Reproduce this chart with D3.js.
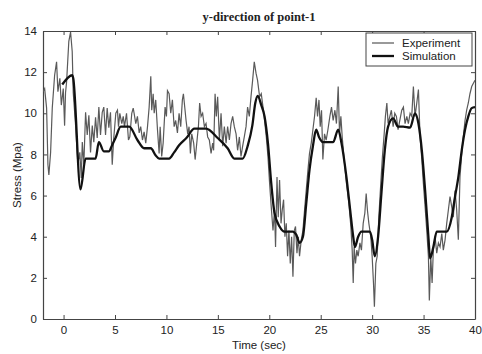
<!DOCTYPE html>
<html>
<head>
<meta charset="utf-8">
<script src="https://cdn.jsdelivr.net/npm/d3@7"></script>
<style>
  body { margin: 0; background: #fff; }
  svg text { font-family: "Liberation Sans", Arial, sans-serif; fill: #222; }
</style>
</head>
<body>
<div id="chart"></div>
<script>
const width = 482,
  height = 354;

// experiment (measured) stress, time in sec
const expTime = [-2.0, -1.84, -1.65, -1.52, -1.43, -1.26, -1.10, -0.87, -0.68, -0.55, -0.36, -0.22, -0.03, 0.10, 0.19, 0.29, 0.51, 0.68, 0.84, 0.94,
  1.17, 1.39, 1.58, 1.72, 1.82, 1.97, 2.14, 2.30, 2.46, 2.62, 2.79, 2.94, 3.11, 3.27, 3.43, 3.59, 3.76, 3.91, 4.08, 4.24,
  4.40, 4.56, 4.73, 4.88, 5.08, 5.24, 5.34, 5.47, 5.66, 5.80, 5.92, 6.12, 6.31, 6.44, 6.63, 6.77, 6.86, 7.02, 7.18, 7.35,
  7.50, 7.67, 7.83, 7.99, 8.16, 8.32, 8.48, 8.57, 8.71, 8.81, 8.96, 9.13, 9.29, 9.39, 9.54, 9.68, 9.87, 10.0, 10.10, 10.26,
  10.42, 10.58, 10.75, 10.90, 11.07, 11.23, 11.39, 11.55, 11.65, 11.91, 12.07, 12.20, 12.33, 12.46, 12.65, 12.79, 12.98, 13.11, 13.23, 13.37,
  13.52, 13.69, 13.85, 14.01, 14.17, 14.34, 14.50, 14.59, 14.73, 14.85, 14.98, 15.15, 15.31, 15.47, 15.63, 15.80, 15.95, 16.12, 16.28, 16.44,
  16.60, 16.77, 16.92, 17.09, 17.25, 17.41, 17.57, 17.74, 17.89, 18.06, 18.22, 18.38, 18.54, 18.71, 18.86, 19.06, 19.22, 19.39, 19.54, 19.71,
  19.87, 20.03, 20.19, 20.36, 20.51, 20.61, 20.75, 20.87, 21.0, 21.14, 21.26, 21.39, 21.52, 21.65, 21.78, 21.91, 22.04, 22.17, 22.30, 22.43,
  22.55, 22.69, 22.82, 22.94, 23.11, 23.27, 23.43, 23.59, 23.76, 23.91, 24.08, 24.24, 24.40, 24.56, 24.69, 24.83, 24.95, 25.08, 25.21, 25.37,
  25.53, 25.70, 25.89, 26.05, 26.21, 26.38, 26.53, 26.70, 26.83, 26.96, 27.09, 27.28, 27.50, 27.74, 27.93, 28.06, 28.16, 28.25, 28.38, 28.51,
  28.64, 28.81, 28.96, 29.13, 29.29, 29.42, 29.54, 29.68, 29.87, 30.0, 30.13, 30.22, 30.36, 30.49, 30.65, 30.84, 31.0, 31.17, 31.29, 31.43,
  31.55, 31.72, 31.87, 32.04, 32.20, 32.36, 32.52, 32.69, 32.88, 33.04, 33.20, 33.37, 33.52, 33.69, 33.85, 34.01, 34.17, 34.34, 34.50, 34.66,
  34.83, 34.98, 35.15, 35.31, 35.47, 35.56, 35.70, 35.83, 35.95, 36.12, 36.28, 36.44, 36.60, 36.77, 36.92, 37.09, 37.25, 37.41, 37.57, 37.74,
  37.89, 38.06, 38.22, 38.38, 38.54, 38.71, 38.86, 39.03, 39.19, 39.35, 39.51, 39.68, 39.83, 40.0];
const expStress = [11.05, 11.2, 10.25, 7.5, 7.0, 8.1, 10.25, 11.85, 12.5, 11.05, 11.7, 10.4, 11.2, 9.4, 11.0, 11.5, 13.5, 13.95, 13.0, 11.0,
  9.4, 7.5, 8.1, 6.85, 8.6, 7.5, 10.05, 8.95, 9.9, 8.1, 9.4, 8.6, 9.8, 8.8, 10.3, 8.95, 10.05, 10.3, 8.95, 10.25,
  9.3, 10.05, 7.5, 8.8, 10.0, 10.15, 9.35, 10.0, 9.5, 9.85, 9.35, 10.0, 8.7, 8.85, 10.0, 10.25, 10.0, 9.5, 9.85, 9.05,
  9.35, 8.7, 9.1, 8.55, 9.35, 10.3, 11.8, 10.15, 10.95, 10.0, 10.65, 9.2, 8.05, 9.35, 7.9, 8.55, 10.3, 9.85, 11.1, 10.95,
  10.0, 10.65, 9.35, 9.65, 9.05, 10.0, 9.35, 10.65, 10.95, 9.65, 9.0, 9.35, 8.05, 9.0, 8.55, 7.75, 8.7, 9.35, 10.5, 9.85,
  10.0, 9.35, 9.5, 8.85, 8.7, 8.05, 8.55, 8.2, 10.95, 9.85, 10.8, 8.7, 10.0, 8.4, 9.35, 8.55, 9.35, 8.7, 9.5, 9.85,
  9.35, 9.0, 8.2, 8.85, 7.9, 8.4, 8.85, 9.35, 10.3, 9.85, 10.8, 11.6, 12.5, 11.95, 11.6, 10.8, 10.95, 10.3, 9.65, 8.85,
  7.9, 6.6, 5.45, 4.3, 5.3, 3.5, 6.9, 4.95, 6.75, 4.65, 5.3, 5.8, 4.0, 4.65, 3.05, 4.3, 2.7, 4.0, 2.05, 4.3,
  4.5, 3.2, 4.0, 3.05, 3.85, 4.3, 5.3, 6.25, 7.25, 8.05, 8.55, 9.2, 9.85, 10.75, 9.85, 10.65, 9.35, 10.15, 7.75, 9.0,
  8.7, 9.2, 9.85, 10.3, 9.65, 10.15, 9.5, 11.3, 9.0, 9.85, 8.85, 7.75, 6.6, 5.6, 4.5, 3.35, 1.75, 3.5, 2.7, 3.35,
  3.05, 3.7, 3.35, 4.65, 5.15, 6.1, 5.3, 4.65, 4.0, 3.05, 1.75, 0.6, 2.7, 3.05, 4.95, 6.6, 7.9, 9.0, 9.85, 10.5,
  9.5, 9.85, 10.15, 9.35, 10.0, 9.85, 9.2, 9.65, 10.15, 10.3, 9.5, 9.85, 9.5, 10.0, 9.85, 11.3, 9.85, 10.5, 11.15, 8.85,
  7.75, 6.6, 5.45, 4.3, 3.05, 0.9, 3.05, 1.75, 3.35, 4.0, 3.2, 3.7, 3.5, 4.15, 3.35, 3.85, 4.65, 5.3, 5.95, 5.45,
  4.95, 6.25, 5.3, 3.85, 6.9, 8.05, 8.85, 9.65, 10.15, 10.5, 10.95, 11.3, 11.45, 11.6];

// simulation stress
const simTime = [-0.13, 0.84, 0.94, 1.65, 2.14, 3.11, 3.43, 3.91, 4.40, 4.76, 5.05, 5.56, 6.38, 7.18, 7.83, 8.48, 8.96, 9.29, 10.26, 10.75,
  11.23, 11.94, 12.72, 13.85, 14.98, 15.95, 16.60, 17.41, 17.89, 18.35, 18.64, 18.88, 19.22, 19.54, 19.87, 20.19, 20.51, 21.0, 21.49, 22.30,
  22.62, 22.94, 23.27, 23.59, 23.91, 24.24, 24.56, 24.83, 25.21, 26.21, 26.70, 27.02, 27.50, 27.83, 28.16, 28.32, 28.64, 28.96, 29.78, 30.0,
  30.26, 30.58, 30.90, 31.23, 31.55, 32.04, 32.52, 33.01, 33.69, 34.17, 34.50, 34.83, 35.15, 35.47, 35.63, 35.95, 36.28, 37.25, 37.74, 38.06,
  38.38, 38.71, 39.03, 39.35, 39.68, 40.0];
const simStress = [11.4, 11.85, 11.7, 6.3, 7.8, 7.8, 8.6, 8.15, 8.15, 8.5, 8.8, 9.35, 9.35, 8.7, 8.3, 8.3, 7.95, 7.8, 7.8, 8.1,
  8.45, 8.8, 9.25, 9.25, 8.8, 8.3, 7.8, 7.8, 8.4, 9.4, 10.5, 10.85, 10.4, 9.85, 8.55, 6.6, 5.15, 4.5, 4.25, 4.25,
  4.1, 3.7, 4.0, 5.6, 7.25, 8.4, 9.2, 8.85, 8.6, 8.6, 9.2, 8.55, 6.9, 5.45, 4.0, 3.5, 4.0, 4.25, 4.25, 3.85,
  3.05, 4.0, 6.1, 8.2, 9.35, 9.75, 9.35, 9.35, 9.3, 10.0, 9.5, 8.2, 6.25, 4.0, 2.95, 3.5, 4.25, 4.25, 4.95, 5.95,
  6.9, 8.2, 9.2, 9.85, 10.25, 10.3];

const xTicks = [0, 5, 10, 15, 20, 25, 30, 35, 40];
const yTicks = [0, 2, 4, 6, 8, 10, 12, 14];
const seriesNames = ["Experiment", "Simulation"];

const margin = { top: 31, right: 7, bottom: 35, left: 43 };
const plotW = width - margin.left - margin.right,
  plotH = height - margin.top - margin.bottom;

const x = d3.scaleLinear().domain([-2, 40]).range([0, plotW]);
const y = d3.scaleLinear().domain([0, 14]).range([plotH, 0]);

const svg = d3.select("#chart").append("svg")
  .attr("width", width)
  .attr("height", height);

svg.append("text")
  .attr("x", margin.left + plotW / 2)
  .attr("y", 21)
  .attr("text-anchor", "middle")
  .style("font-family", "'Liberation Serif', 'Times New Roman', serif")
  .style("font-weight", "bold")
  .style("font-size", "12.5px")
  .text("y-direction of point-1");

const g = svg.append("g").attr("transform", `translate(${margin.left},${margin.top})`);

g.append("clipPath").attr("id", "clip")
  .append("rect").attr("width", plotW).attr("height", plotH);

// axes, matlab style: ticks inside on all four sides
const axisColor = "#444";
const xb = g.append("g").attr("transform", `translate(0,${plotH})`)
  .call(d3.axisBottom(x).tickValues(xTicks).tickSizeInner(-4).tickSizeOuter(0).tickPadding(7));
const xt = g.append("g")
  .call(d3.axisTop(x).tickValues(xTicks).tickSizeInner(-4).tickSizeOuter(0).tickFormat(""));
const yl = g.append("g")
  .call(d3.axisLeft(y).tickValues(yTicks).tickSizeInner(-4).tickSizeOuter(0).tickPadding(6));
const yr = g.append("g").attr("transform", `translate(${plotW},0)`)
  .call(d3.axisRight(y).tickValues(yTicks).tickSizeInner(-4).tickSizeOuter(0).tickFormat(""));

[xb, xt, yl, yr].forEach(a => {
  a.selectAll("path").attr("stroke", axisColor).attr("stroke-width", 1.2);
  a.selectAll("line").attr("stroke", axisColor);
  a.selectAll("text").style("font-size", "11.5px").attr("fill", "#222");
});

const line = d3.line()
  .x(d => x(d[0]))
  .y(d => y(d[1]));

const simLine = d3.line()
  .curve(d3.curveMonotoneX)
  .x(d => x(d[0]))
  .y(d => y(d[1]));

const expData = expTime.map((t, i) => [t, expStress[i]]);
const simData = simTime.map((t, i) => [t, simStress[i]]);

g.append("path")
  .datum(expData)
  .attr("clip-path", "url(#clip)")
  .attr("fill", "none")
  .attr("stroke", "#5a5a5a")
  .attr("stroke-width", 1.2)
  .attr("d", line);

g.append("path")
  .datum(simData)
  .attr("clip-path", "url(#clip)")
  .attr("fill", "none")
  .attr("stroke", "#111")
  .attr("stroke-width", 2.3)
  .attr("stroke-linejoin", "round")
  .attr("d", simLine);

// legend
const lg = svg.append("g").attr("transform", "translate(366,33)");
lg.append("rect")
  .attr("width", 106).attr("height", 33)
  .attr("fill", "#fff").attr("stroke", axisColor).attr("stroke-width", 1);
const legStyle = [{ color: "#777", w: 1.5 }, { color: "#111", w: 2.3 }];
seriesNames.forEach((name, i) => {
  const yy = 10 + i * 13;
  lg.append("line")
    .attr("x1", 6).attr("x2", 28).attr("y1", yy).attr("y2", yy)
    .attr("stroke", legStyle[i].color).attr("stroke-width", legStyle[i].w);
  lg.append("text")
    .attr("x", 36).attr("y", yy + 4)
    .style("font-size", "11.5px")
    .text(name);
});

svg.append("text")
  .attr("x", margin.left + plotW / 2)
  .attr("y", 349)
  .attr("text-anchor", "middle")
  .style("font-size", "11.5px")
  .text("Time (sec)");

svg.append("text")
  .attr("transform", `translate(21,${margin.top + plotH / 2}) rotate(-90)`)
  .attr("text-anchor", "middle")
  .style("font-size", "11.5px")
  .text("Stress (Mpa)");
</script>
</body>
</html>
